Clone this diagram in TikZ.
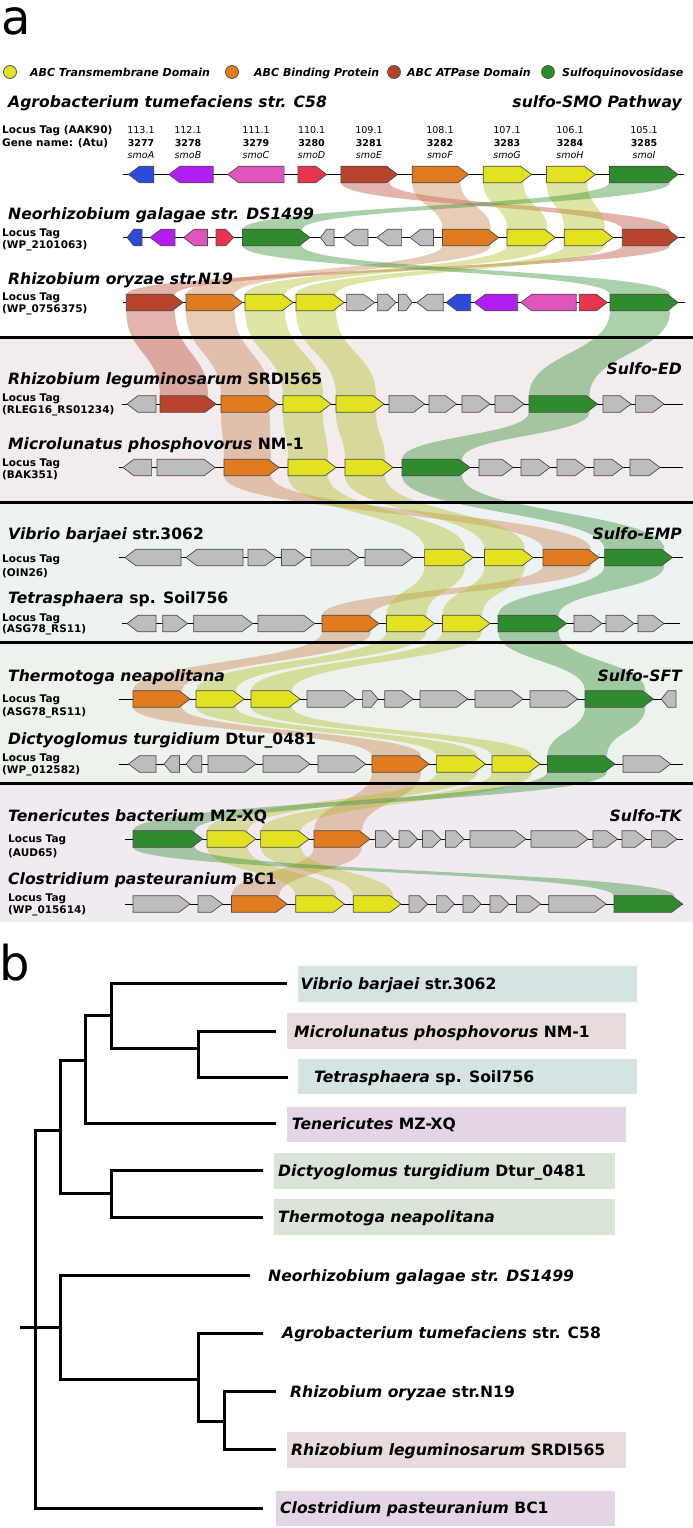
\documentclass[tikz,border=0pt]{standalone}
\usepackage{fontspec}
\setmainfont{DejaVu Sans}
\definecolor{cBlue}{HTML}{2C4BDB}
\definecolor{cPurple}{HTML}{B21EF2}
\definecolor{cPink}{HTML}{E055BD}
\definecolor{cRed}{HTML}{E8344C}
\definecolor{cBrown}{HTML}{B9442D}
\definecolor{cOrange}{HTML}{E07B1F}
\definecolor{cYellow}{HTML}{E2E220}
\definecolor{cGreen}{HTML}{2E8C2E}
\definecolor{cGray}{HTML}{BDBDBD}
\definecolor{rBrown}{HTML}{B9442D}
\definecolor{rOrange}{HTML}{C8804A}
\definecolor{rYellow}{HTML}{B0BE20}
\definecolor{rGreen}{HTML}{2E8C2E}
\definecolor{bgED}{HTML}{F2ECEC}
\definecolor{bgEMP}{HTML}{EDF3F3}
\definecolor{bgSFT}{HTML}{EEF2EC}
\definecolor{bgTK}{HTML}{F1EBF1}
\definecolor{bxED}{HTML}{E8DBDB}
\definecolor{bxEMP}{HTML}{D5E3E3}
\definecolor{bxSFT}{HTML}{D9E4D6}
\definecolor{bxTK}{HTML}{E3D5E3}
\newcommand\spn[1]{{\itshape #1}}
\newcommand\gr[4]{%
  \pgfmathsetmacro\hd{min(11,0.45*(#2-#1))}%
  \filldraw[gene, fill=#4] (#1,#3-8.3) -- (#2-\hd,#3-8.3) -- (#2,#3) -- (#2-\hd,#3+8.3) -- (#1,#3+8.3) -- cycle;}
\newcommand\gl[4]{%
  \pgfmathsetmacro\hd{min(11,0.45*(#2-#1))}%
  \filldraw[gene, fill=#4] (#2,#3-8.3) -- (#1+\hd,#3-8.3) -- (#1,#3) -- (#1+\hd,#3+8.3) -- (#2,#3+8.3) -- cycle;}
\newcommand\rib[7]{%
  \pgfmathsetmacro\ya{#3+8}\pgfmathsetmacro\yb{#6-8}\pgfmathsetmacro\ym{(\ya+\yb)/2}%
  \fill[#7, fill opacity=0.4] (#1,#3) -- (#1,\ya) .. controls (#1,\ym) and (#4,\ym) .. (#4,\yb) -- (#4,#6) -- (#5-8,#6) -- (#5-8,\yb) .. controls (#5-8,\ym) and (#2-8,\ym) .. (#2-8,\ya) -- (#2-8,#3) -- cycle;}
\tikzset{
  gene/.style={draw=black!70, line width=0.7pt, line join=miter},
  backbone/.style={draw=black, line width=0.9pt},
  sect/.style={draw=black, line width=3pt},
  ttl/.style={anchor=base west, inner sep=0pt, font=\fontsize{15.6}{18}\selectfont\bfseries},
  ttr/.style={anchor=base east, inner sep=0pt, font=\fontsize{15.6}{18}\selectfont\bfseries\itshape},
  loc/.style={anchor=base west, inner sep=0pt, font=\fontsize{10.5}{12}\selectfont\bfseries},
  num/.style={anchor=base, inner sep=0pt, font=\fontsize{9.5}{11}\selectfont},
  leg/.style={anchor=base west, inner sep=0pt, font=\fontsize{11}{13}\selectfont\bfseries\itshape},
  legdot/.style={draw=black!70, line width=0.7pt},
  big/.style={anchor=base west, inner sep=0pt, font=\fontsize{48}{54}\selectfont},
  branch/.style={draw=black, line width=3pt, line join=miter},
}
\begin{document}
\begin{tikzpicture}[x=1pt,y=-1pt]
\useasboundingbox (0,0) rectangle (693,1528);
\fill[white] (0,0) rectangle (693,1528);
% section backgrounds
\fill[bgED] (0,337) rectangle (693,502);
\fill[bgEMP] (0,502) rectangle (693,642.5);
\fill[bgSFT] (0,642.5) rectangle (693,783);
\fill[bgTK] (0,783) rectangle (693,922);
% ribbons
% R1 -> R2
\rib{340.9}{397.6}{174.5}{622.3}{678.2}{237.5}{rBrown}
\rib{412.2}{468.5}{174.5}{442.4}{498.7}{237.5}{rOrange}
\rib{483.2}{531.5}{174.5}{507}{555.4}{237.5}{rYellow}
\rib{546.5}{595.3}{174.5}{564.3}{613}{237.5}{rYellow}
\rib{609.5}{678.2}{174.5}{242.5}{310}{237.5}{rGreen}
% R2 -> R3
\rib{622.3}{678.2}{237.5}{126.3}{183}{302.5}{rBrown}
\rib{442.4}{498.7}{237.5}{186}{242.5}{302.5}{rOrange}
\rib{507}{555.4}{237.5}{245}{293}{302.5}{rYellow}
\rib{564.3}{613}{237.5}{296}{344}{302.5}{rYellow}
\rib{242.5}{310}{237.5}{610}{678.2}{302.5}{rGreen}
% R3 -> R4
\rib{126.3}{183}{302.5}{160}{216}{404}{rBrown}
\rib{186}{242.5}{302.5}{221}{277.5}{404}{rOrange}
\rib{245}{293}{302.5}{283}{331}{404}{rYellow}
\rib{296}{344}{302.5}{336}{384}{404}{rYellow}
\rib{610}{678.2}{302.5}{529}{597.5}{404}{rGreen}
% R4 -> R5
\rib{221}{277.5}{404}{224}{279}{467.5}{rOrange}
\rib{283}{331}{404}{288}{336}{467.5}{rYellow}
\rib{336}{384}{404}{345}{393}{467.5}{rYellow}
\rib{529}{597.5}{404}{402}{470}{467.5}{rGreen}
% R5 -> R6
\rib{224}{279}{467.5}{543}{599}{557.5}{rOrange}
\rib{288}{336}{467.5}{424.6}{473}{557.5}{rYellow}
\rib{345}{393}{467.5}{484.5}{533}{557.5}{rYellow}
\rib{402}{470}{467.5}{604.6}{672.4}{557.5}{rGreen}
% R6 -> R7
\rib{543}{599}{557.5}{322}{379}{623.5}{rOrange}
\rib{424.6}{473}{557.5}{386.5}{434.4}{623.5}{rYellow}
\rib{484.5}{533}{557.5}{442.4}{490}{623.5}{rYellow}
\rib{604.6}{672.4}{557.5}{498}{566.5}{623.5}{rGreen}
% R7 -> R8
\rib{322}{379}{623.5}{133}{190}{699}{rOrange}
\rib{386.5}{434.4}{623.5}{196}{244}{699}{rYellow}
\rib{442.4}{490}{623.5}{251}{300}{699}{rYellow}
\rib{498}{566.5}{623.5}{585}{653.4}{699}{rGreen}
% R8 -> R9
\rib{133}{190}{699}{372}{429}{764}{rOrange}
\rib{196}{244}{699}{436.6}{485.4}{764}{rYellow}
\rib{251}{300}{699}{492}{540}{764}{rYellow}
\rib{585}{653.4}{699}{547.4}{615}{764}{rGreen}
% R9 -> R10
\rib{372}{429}{764}{314}{370}{839}{rOrange}
\rib{436.6}{485.4}{764}{207}{255.8}{839}{rYellow}
\rib{492}{540}{764}{260.6}{309}{839}{rYellow}
\rib{547.4}{615}{764}{133}{202.6}{839}{rGreen}
% R10 -> R11
\rib{314}{370}{839}{231.4}{287}{904}{rOrange}
\rib{207}{255.8}{839}{295.7}{344.4}{904}{rYellow}
\rib{260.6}{309}{839}{353.3}{401}{904}{rYellow}
\rib{133}{202.6}{839}{614}{682.6}{904}{rGreen}
% section lines
\draw[sect] (0,337) -- (693,337);
\draw[sect] (0,502) -- (693,502);
\draw[sect] (0,642.5) -- (693,642.5);
\draw[sect] (0,783) -- (693,783);
% big labels
\node[big] (labA) at (1,35) {a};
\node[big] (labB) at (-1,980) {b};
% legend
\filldraw[legdot, fill=cYellow] (10,72) circle (6.5pt);
\node[leg] (lg1) at (30,76) {ABC Transmembrane Domain};
\filldraw[legdot, fill=cOrange] (232,72) circle (6.5pt);
\node[leg] (lg2) at (254,76) {ABC Binding Protein};
\filldraw[legdot, fill=cBrown] (394,72) circle (6.5pt);
\node[leg] (lg3) at (407,76) {ABC ATPase Domain};
\filldraw[legdot, fill=cGreen] (548,72) circle (6.5pt);
\node[leg] (lg4) at (562,76) {Sulfoquinovosidase};
% ===== Row 1 =====
\node[ttl] (t1) at (8,107) {\spn{Agrobacterium tumefaciens str. C58}};
\node[ttr] (p1) at (682,107) {sulfo-SMO Pathway};
\node[loc] (lt1) at (2,133) {Locus Tag (AAK90)};
\node[loc] (gn1) at (2,146) {Gene name: (Atu)};
\foreach \xx/\aa/\bb/\cc in {141/113.1/3277/smoA,188/112.1/3278/smoB,256/111.1/3279/smoC,311.6/110.1/3280/smoD,369/109.1/3281/smoE,440/108.1/3282/smoF,507/107.1/3283/smoG,570/106.1/3284/smoH,644/105.1/3285/smoI}{
  \node[num] at (\xx,133) {\aa};
  \node[num, font=\fontsize{9.5}{11}\selectfont\bfseries] at (\xx,146) {\bb};
  \node[num, font=\fontsize{9.5}{11}\selectfont\itshape] at (\xx,158) {\cc};
}
\draw[backbone] (123,174.5) -- (684,174.5);
\gl{128.5}{153.8}{174.5}{cBlue}
\gl{168.9}{213.2}{174.5}{cPurple}
\gl{227.8}{284.1}{174.5}{cPink}
\gr{297.9}{326.7}{174.5}{cRed}
\gr{340.9}{397.6}{174.5}{cBrown}
\gr{412.2}{468.5}{174.5}{cOrange}
\gr{483.2}{531.5}{174.5}{cYellow}
\gr{546.5}{595.3}{174.5}{cYellow}
\gr{609.5}{678.2}{174.5}{cGreen}
% ===== Row 2 =====
\node[ttl] (t2) at (8,219) {\spn{Neorhizobium galagae str. DS1499}};
\node[loc] (lt2) at (2,236) {Locus Tag};
\node[loc] (id2) at (2,248) {(WP\_2101063)};
\draw[backbone] (123,237.5) -- (685,237.5);
\gl{127}{142}{237.5}{cBlue}
\gl{150}{175}{237.5}{cPurple}
\gl{183.5}{207.5}{237.5}{cPink}
\gr{216}{233.6}{237.5}{cRed}
\gr{242.5}{310}{237.5}{cGreen}
\gl{320.5}{334}{237.5}{cGray}
\gl{343.5}{368}{237.5}{cGray}
\gl{376.8}{401.6}{237.5}{cGray}
\gl{410}{433.5}{237.5}{cGray}
\gr{442.4}{498.7}{237.5}{cOrange}
\gr{507}{555.4}{237.5}{cYellow}
\gr{564.3}{613}{237.5}{cYellow}
\gr{622.3}{678.2}{237.5}{cBrown}
% ===== Row 3 =====
\node[ttl] (t3) at (8,284) {\spn{Rhizobium oryzae str.N19}};
\node[loc] (lt3) at (2,300) {Locus Tag};
\node[loc] (id3) at (2,312) {(WP\_0756375)};
\draw[backbone] (123,302.5) -- (685,302.5);
\gr{126.3}{183}{302.5}{cBrown}
\gr{186}{242.5}{302.5}{cOrange}
\gr{245}{293}{302.5}{cYellow}
\gr{296}{344}{302.5}{cYellow}
\gr{346.6}{374.6}{302.5}{cGray}
\gr{377.7}{395.8}{302.5}{cGray}
\gr{398.5}{412}{302.5}{cGray}
\gl{416.7}{443.3}{302.5}{cGray}
\gl{446}{470.7}{302.5}{cBlue}
\gl{474.3}{517.7}{302.5}{cPurple}
\gl{520.8}{576.2}{302.5}{cPink}
\gr{579.3}{607.3}{302.5}{cRed}
\gr{610}{678.2}{302.5}{cGreen}
% ===== Row 4 (Sulfo-ED) =====
\node[ttr] (p4) at (682,374) {Sulfo-ED};
\node[ttl] (t4) at (8,384) {\spn{Rhizobium leguminosarum} SRDI565};
\node[loc] (lt4) at (2,401) {Locus Tag};
\node[loc] (id4) at (2,413) {(RLEG16\_RS01234)};
\draw[backbone] (122,404) -- (683,404);
\gl{127}{156}{404}{cGray}
\gr{160}{216}{404}{cBrown}
\gr{221}{277.5}{404}{cOrange}
\gr{283}{331}{404}{cYellow}
\gr{336}{384}{404}{cYellow}
\gr{389}{424.6}{404}{cGray}
\gr{429}{456.5}{404}{cGray}
\gr{462}{490}{404}{cGray}
\gr{495}{524}{404}{cGray}
\gr{529}{597.5}{404}{cGreen}
\gr{603}{631}{404}{cGray}
\gr{635.6}{664}{404}{cGray}
% ===== Row 5 =====
\node[ttl] (t5) at (8,449) {\spn{Microlunatus phosphovorus} NM-1};
\node[loc] (lt5) at (2,466) {Locus Tag};
\node[loc] (id5) at (2,478) {(BAK351)};
\draw[backbone] (119,467.5) -- (683,467.5);
\gl{123}{151.6}{467.5}{cGray}
\gr{157}{215}{467.5}{cGray}
\gr{224}{279}{467.5}{cOrange}
\gr{288}{336}{467.5}{cYellow}
\gr{345}{393}{467.5}{cYellow}
\gr{402}{470}{467.5}{cGreen}
\gr{479}{513}{467.5}{cGray}
\gr{521}{550}{467.5}{cGray}
\gr{557}{586}{467.5}{cGray}
\gr{594}{623}{467.5}{cGray}
\gr{630}{660}{467.5}{cGray}
% ===== Row 6 (Sulfo-EMP) =====
\node[ttr] (p6) at (682,539) {Sulfo-EMP};
\node[ttl] (t6) at (8,539) {\spn{Vibrio barjaei} str.3062};
\node[loc] (lt6) at (2,562) {Locus Tag};
\node[loc] (id6) at (2,576) {(OIN26)};
\draw[backbone] (119,557.5) -- (683,557.5);
\gl{125}{181}{557.5}{cGray}
\gl{186}{243}{557.5}{cGray}
\gr{248}{276}{557.5}{cGray}
\gr{281.5}{306}{557.5}{cGray}
\gr{311}{359}{557.5}{cGray}
\gr{365}{413}{557.5}{cGray}
\gr{424.6}{473}{557.5}{cYellow}
\gr{484.5}{533}{557.5}{cYellow}
\gr{543}{599}{557.5}{cOrange}
\gr{604.6}{672.4}{557.5}{cGreen}
% ===== Row 7 =====
\node[ttl] (t7) at (8,603) {\spn{Tetrasphaera} sp. Soil756};
\node[loc] (lt7) at (2,621) {Locus Tag};
\node[loc] (id7) at (2,632) {(ASG78\_RS11)};
\draw[backbone] (122,623.5) -- (680,623.5);
\gl{127}{156}{623.5}{cGray}
\gr{162.7}{187.5}{623.5}{cGray}
\gr{193.7}{252.7}{623.5}{cGray}
\gr{258}{314.7}{623.5}{cGray}
\gr{322}{379}{623.5}{cOrange}
\gr{386.5}{434.4}{623.5}{cYellow}
\gr{442.4}{490}{623.5}{cYellow}
\gr{498}{566.5}{623.5}{cGreen}
\gr{574}{602}{623.5}{cGray}
\gr{606}{634}{623.5}{cGray}
\gr{638}{664}{623.5}{cGray}
% ===== Row 8 (Sulfo-SFT) =====
\node[ttr] (p8) at (682,681) {Sulfo-SFT};
\node[ttl] (t8) at (8,681) {\spn{Thermotoga neapolitana}};
\node[loc] (lt8) at (2,702) {Locus Tag};
\node[loc] (id8) at (2,715) {(ASG78\_RS11)};
\draw[backbone] (119,699) -- (676,699);
\gr{133}{190}{699}{cOrange}
\gr{196}{244}{699}{cYellow}
\gr{251}{300}{699}{cYellow}
\gr{307}{355.5}{699}{cGray}
\gr{362.6}{378}{699}{cGray}
\gr{384.8}{413}{699}{cGray}
\gr{420}{467.6}{699}{cGray}
\gr{475}{523}{699}{cGray}
\gr{530}{577.6}{699}{cGray}
\gr{585}{653.4}{699}{cGreen}
\gl{661.3}{676}{699}{cGray}
% ===== Row 9 =====
\node[ttl] (t9) at (8,744) {\spn{Dictyoglomus turgidium} Dtur\_0481};
\node[loc] (lt9) at (2,761) {Locus Tag};
\node[loc] (id9) at (2,773) {(WP\_012582)};
\draw[backbone] (119,764) -- (683,764);
\gl{128.5}{156}{764}{cGray}
\gl{164}{179.5}{764}{cGray}
\gl{186}{201.7}{764}{cGray}
\gr{208}{255.8}{764}{cGray}
\gr{263}{310}{764}{cGray}
\gr{318}{365.7}{764}{cGray}
\gr{372}{429}{764}{cOrange}
\gr{436.6}{485.4}{764}{cYellow}
\gr{492}{540}{764}{cYellow}
\gr{547.4}{615}{764}{cGreen}
\gr{623}{670.7}{764}{cGray}
% ===== Row 10 (Sulfo-TK) =====
\node[ttr] (p10) at (682,821) {Sulfo-TK};
\node[ttl] (t10) at (8,821) {\spn{Tenericutes bacterium} MZ-XQ};
\node[loc] (lt10) at (8,842) {Locus Tag};
\node[loc] (id10) at (8,856) {(AUD65)};
\draw[backbone] (125,839) -- (683,839);
\gr{133}{202.6}{839}{cGreen}
\gr{207}{255.8}{839}{cYellow}
\gr{260.6}{309}{839}{cYellow}
\gr{314}{370}{839}{cOrange}
\gr{375.4}{393.6}{839}{cGray}
\gr{399}{417.6}{839}{cGray}
\gr{422.4}{441}{839}{cGray}
\gr{445.5}{464}{839}{cGray}
\gr{470}{526}{839}{cGray}
\gr{531}{588}{839}{cGray}
\gr{593}{617.5}{839}{cGray}
\gr{622}{646}{839}{cGray}
\gr{651.6}{677}{839}{cGray}
% ===== Row 11 =====
\node[ttl] (t11) at (8,884) {\spn{Clostridium pasteuranium} BC1};
\node[loc] (lt11) at (8,901) {Locus Tag};
\node[loc] (id11) at (8,913) {(WP\_015614)};
\draw[backbone] (125,904) -- (683,904);
\gr{133}{190}{904}{cGray}
\gr{198}{222.5}{904}{cGray}
\gr{231.4}{287}{904}{cOrange}
\gr{295.7}{344.4}{904}{cYellow}
\gr{353.3}{401}{904}{cYellow}
\gr{409}{427.7}{904}{cGray}
\gr{436.6}{454.3}{904}{cGray}
\gr{463}{481}{904}{cGray}
\gr{490}{509}{904}{cGray}
\gr{516.4}{540.8}{904}{cGray}
\gr{548.8}{606}{904}{cGray}
\gr{614}{682.6}{904}{cGreen}
% ===== Tree (b) =====
\fill[bxEMP] (298,966) rectangle (637,1002);
\fill[bxED] (287,1013) rectangle (626,1049);
\fill[bxEMP] (298,1059) rectangle (637,1094);
\fill[bxTK] (287,1107) rectangle (626,1142);
\fill[bxSFT] (274,1153) rectangle (615,1189);
\fill[bxSFT] (274,1199) rectangle (615,1235);
\fill[bxED] (287,1432) rectangle (626,1468);
\fill[bxTK] (276,1491) rectangle (615,1526);
\node[ttl] (sV) at (300.5,989) {\spn{Vibrio barjaei} str.3062};
\node[ttl] (sM) at (294,1037) {\spn{Microlunatus phosphovorus} NM-1};
\node[ttl] (sT) at (314,1082) {\spn{Tetrasphaera} sp. Soil756};
\node[ttl] (sTe) at (291.7,1129) {\spn{Tenericutes} MZ-XQ};
\node[ttl] (sD) at (278,1176) {\spn{Dictyoglomus turgidium} Dtur\_0481};
\node[ttl] (sTh) at (278,1222) {\spn{Thermotoga neapolitana}};
\node[ttl] (sN) at (268,1281) {\spn{Neorhizobium galagae str. DS1499}};
\node[ttl] (sAg) at (282,1338) {\spn{Agrobacterium tumefaciens} str. C58};
\node[ttl] (sO) at (290,1397) {\spn{Rhizobium oryzae} str.N19};
\node[ttl] (sR) at (291,1455) {\spn{Rhizobium leguminosarum} SRDI565};
\node[ttl] (sC) at (280,1513) {\spn{Clostridium pasteuranium} BC1};
\coordinate (lV) at (287,983);
\coordinate (lM) at (276,1031);
\coordinate (lT) at (288,1077);
\coordinate (lTe) at (276,1123);
\coordinate (lD) at (263,1170);
\coordinate (lTh) at (263,1217);
\coordinate (lN) at (250,1275);
\coordinate (lAg) at (263,1333);
\coordinate (lO) at (276,1391);
\coordinate (lR) at (276,1449);
\coordinate (lC) at (263,1508);
\coordinate (nMT) at (198.6,1048);
\coordinate (nA) at (111,1015.5);
\coordinate (nB) at (85,1060);
\coordinate (nDT) at (111,1193);
\coordinate (nC) at (60,1130);
\coordinate (nF) at (224,1421);
\coordinate (nE) at (198.6,1379);
\coordinate (nD) at (60,1327);
\coordinate (root) at (35.5,1327);
\coordinate (stub) at (20,1327);
\draw[branch] (lV) -| (nA) |- (nMT);
\draw[branch] (lM) -| (nMT) |- (lT);
\draw[branch] (nA) -| (nB) |- (lTe);
\draw[branch] (lD) -| (nDT) |- (lTh);
\draw[branch] (nB) -| (nC) |- (nDT);
\draw[branch] (nC) -| (root) |- (lC);
\draw[branch] (lO) -| (nF) |- (lR);
\draw[branch] (lAg) -| (nE) |- (nF);
\draw[branch] (lN) -| (nD) |- (nE);
\draw[branch] (stub) -- (nD);
\end{tikzpicture}
\end{document}
